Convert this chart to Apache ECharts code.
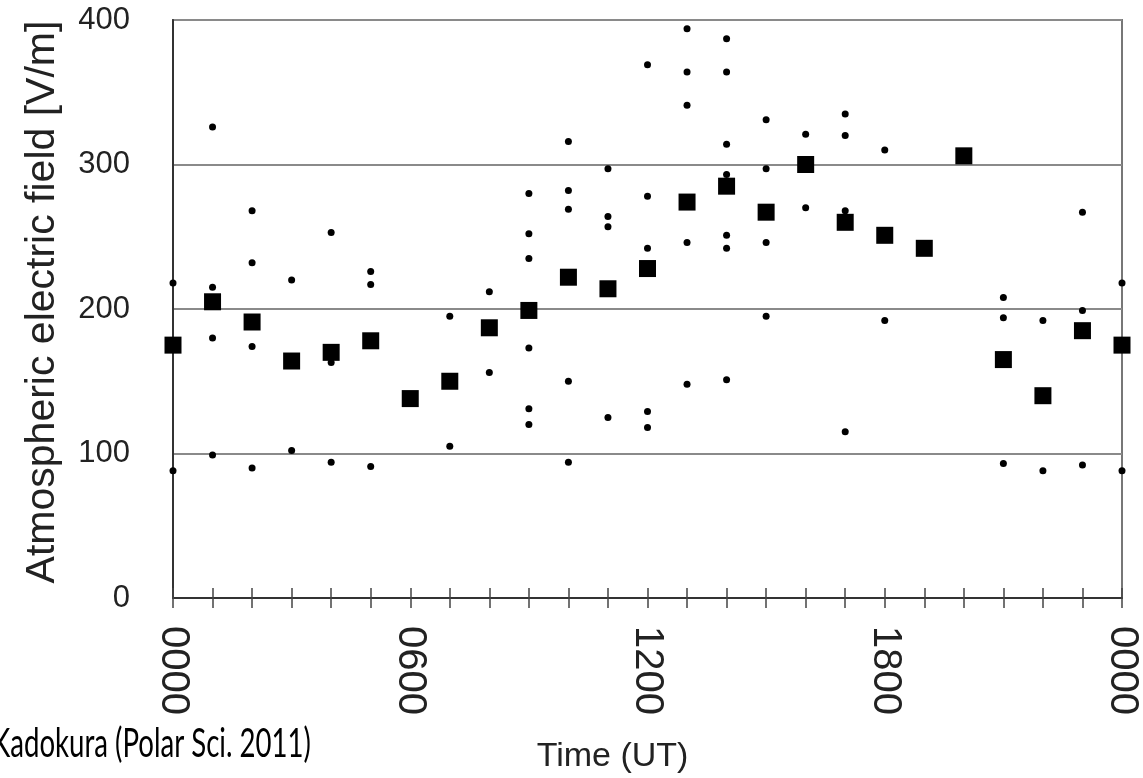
<!DOCTYPE html>
<html>
<head>
<meta charset="utf-8">
<script src="https://cdn.jsdelivr.net/npm/echarts@6/dist/echarts.min.js"></script>
<style>html,body{margin:0;padding:0;background:#fff}#c{width:1143px;height:778px}</style>
</head>
<body>
<div id="c"></div>
<script>
// Hourly mean values (large squares)
const meanHours  = [0,1,2,3,4,5,6,7,8,9,10,11,12,13,14,15,16,17,18,19,20,21,22,23,24];
const meanValues = [175,205,191,164,170,178,138,150,187,199,222,214,228,274,285,267,300,260,251,242,306,165,140,185,175];

// Individual daily values (small dots)
const dotHours = [
  0,0,
  1,1,1,1,
  2,2,2,2,
  3,3,
  4,4,4,
  5,5,5,
  7,7,
  8,8,
  9,9,9,9,9,9,
  10,10,10,10,10,
  11,11,11,11,
  12,12,12,12,12,
  13,13,13,13,13,
  14,14,14,14,14,14,14,
  15,15,15,15,
  16,16,
  17,17,17,17,
  18,18,
  21,21,21,
  22,22,
  23,23,23,
  24,24
];
const dotValues = [
  218,88,
  326,215,180,99,
  268,232,174,90,
  220,102,
  253,163,94,
  226,217,91,
  195,105,
  212,156,
  280,252,235,173,131,120,
  316,282,269,150,94,
  297,264,257,125,
  369,278,242,129,118,
  394,364,341,246,148,
  387,364,314,293,251,242,151,
  331,297,246,195,
  321,270,
  335,320,268,115,
  310,192,
  208,194,93,
  192,88,
  267,199,92,
  218,88
];

// Axis tick labels
const xLabelHours = [0,6,12,18,24];
const xLabelTexts = ['0000','0600','1200','1800','0000'];
const yTicks = [0,100,200,300,400];

const meanData = meanHours.map((h,i)=>[h, meanValues[i]]);
const dotData = dotHours.map((h,i)=>[h, dotValues[i]]);

const chart = echarts.init(document.getElementById('c'), null, {renderer:'canvas'});
const font = 'Liberation Sans, Arial, sans-serif';
chart.setOption({
  animation:false,
  backgroundColor:'#fff',
  grid:{left:173, right:21, top:20, bottom:180, show:true, borderColor:'#777', borderWidth:2, backgroundColor:'transparent', outerBoundsMode:'none'},
  xAxis:[{
    type:'value', min:0, max:24, interval:1, position:'bottom',
    axisLine:{show:true, onZero:false, lineStyle:{color:'#333', width:2}},
    axisTick:{show:true, inside:false, length:10, lineStyle:{color:'#444', width:1.5}},
    splitLine:{show:false},
    axisLabel:{
      show:true, rotate:-90, margin:28, fontSize:40, color:'#222', fontFamily:font,
      showMinLabel:true, showMaxLabel:true, hideOverlap:false,
      formatter:(v)=>{const k=xLabelHours.indexOf(Math.round(v)); return k>=0 ? xLabelTexts[k] : '';}
    },
    name:'Time (UT)', nameLocation:'middle', nameGap:142,
    nameTextStyle:{fontSize:34, color:'#222', fontFamily:font, padding:[0,70,0,0]}
  },{
    type:'value', min:0, max:24, interval:1, position:'bottom',
    axisLine:{show:false},
    axisTick:{show:true, inside:true, length:10, lineStyle:{color:'#444', width:1.5}},
    axisLabel:{show:false}, splitLine:{show:false}
  }],
  yAxis:{
    type:'value', min:0, max:400, interval:100,
    axisLine:{show:true, lineStyle:{color:'#333', width:2}},
    axisTick:{show:false},
    splitLine:{show:true, lineStyle:{color:'#8a8a8a', width:2}},
    axisLabel:{fontSize:31, margin:43, color:'#222', fontFamily:font,
      formatter:(v)=> yTicks.indexOf(v)>=0 ? String(v) : ''},
    name:'Atmospheric electric field [V/m]', nameLocation:'middle', nameGap:110,
    nameTextStyle:{fontSize:41, color:'#222', fontFamily:font, padding:[0,0,0,14]}
  },
  graphic:[{
    type:'text', x:-8, y:724, scaleX:0.69, z:10,
    style:{text:'Kadokura (Polar Sci. 2011)', fontSize:40, fontFamily:'Lato, Open Sans, sans-serif', fill:'#000'}
  }],
  series:[{
    type:'scatter', xAxisIndex:0, data:dotData, symbol:'circle', symbolSize:7,
    itemStyle:{color:'#000', opacity:1}, silent:true, z:2
  },{
    type:'scatter', xAxisIndex:0, data:meanData, symbol:'rect', symbolSize:17,
    itemStyle:{color:'#000', opacity:1}, silent:true, z:3
  }]
});
</script>
</body>
</html>
